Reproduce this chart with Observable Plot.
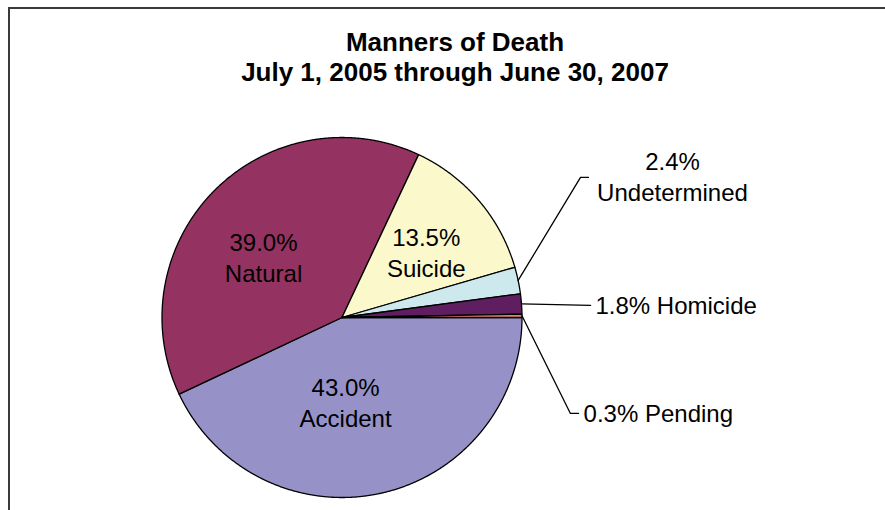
<!DOCTYPE html>
<html>
<head>
<meta charset="utf-8">
<script src="https://cdn.jsdelivr.net/npm/d3@7"></script>
<script src="https://cdn.jsdelivr.net/npm/@observablehq/plot@0.6"></script>
<style>
  html, body { margin: 0; padding: 0; background: #fff; overflow: hidden; }
  #wrap { position: relative; width: 885px; height: 510px; overflow: hidden; }
  #frame { position: absolute; left: 8px; top: 7px; width: 1000px; height: 1000px;
           border-left: 2px solid #3a3a3a; border-top: 2px solid #3a3a3a; pointer-events: none; }
  #title { position: relative; width: 885px; box-sizing: border-box; padding: 27px 0 0 25px; height: 87px;
           text-align: center; font-family: "Liberation Sans", Arial, sans-serif; font-weight: bold;
           font-size: 26px; line-height: 30px; color: #000; }
  #chart { position: relative; }
</style>
</head>
<body>
<div id="wrap">
  <div id="frame"></div>
  <div id="title">Manners of Death<br>July 1, 2005 through June 30, 2007</div>
  <div id="chart"></div>
</div>
<script>
// ---- data ----
const categories = ["Accident", "Natural", "Suicide", "Undetermined", "Homicide", "Pending"];
const percents = [43.0, 39.0, 13.5, 2.4, 1.8, 0.3];
const colors = ["#9692c8", "#943361", "#fbf8cc", "#cde9ee", "#5f1e5f", "#f08070"];
const insideLabels = ["Accident", "Natural", "Suicide"];
const outsideLabels = ["Undetermined", "Homicide", "Pending"];

// ---- layout (unit = pie radius, y up, origin = pie centre) ----
const R = 180, W = 885, H = 423, CX = 341.5, CY = 230;
const insideNudge = {Accident: [-0.10, 0.067], Natural: [-0.047, -0.053], Suicide: [0.05, 0.011]};
const callouts = {
  Undetermined: {elbow: [1.325, 0.778], end: [1.369, 0.778], text: [1.836, 0.786], anchor: "middle", twoLine: true},
  Homicide:     {elbow: [1.381, 0.067], end: [1.381, 0.067], text: [1.408, 0.072], anchor: "start", twoLine: false},
  Pending:      {elbow: [1.269, -0.533], end: [1.314, -0.533], text: [1.342, -0.528], anchor: "start", twoLine: false}
};

const slices = categories.map((name, i) => ({name, value: percents[i]}));
const arcs = d3.pie().sort(null).value(d => d.value)
  .startAngle(Math.PI / 2).endAngle(Math.PI / 2 + 2 * Math.PI)(slices);

const pt = (a, r) => [r * Math.sin(a), r * Math.cos(a)];
const slicePts = [];
for (const a of arcs) {
  const n = Math.max(2, Math.ceil((a.endAngle - a.startAngle) / (Math.PI / 720)));
  slicePts.push({name: a.data.name, x: 0, y: 0});
  for (let k = 0; k <= n; k++) {
    const ang = a.startAngle + (a.endAngle - a.startAngle) * k / n;
    const [x, y] = pt(ang, 1);
    slicePts.push({name: a.data.name, x, y});
  }
  slicePts.push({name: a.data.name, x: 0, y: 0});
}

const fmt = v => v.toFixed(1) + "%";
const inside = arcs.filter(a => insideLabels.includes(a.data.name)).map(a => {
  const mid = (a.startAngle + a.endAngle) / 2;
  const [x, y] = pt(mid, 0.55);
  const nd = insideNudge[a.data.name];
  return {x: x + nd[0], y: y + nd[1], label: fmt(a.data.value) + "\n" + a.data.name};
});

const leaderPts = [];
const outside = [];
for (const a of arcs.filter(a => outsideLabels.includes(a.data.name))) {
  const c = callouts[a.data.name];
  const mid = (a.startAngle + a.endAngle) / 2;
  const [ex, ey] = pt(mid, 1);
  leaderPts.push({name: a.data.name, x: ex, y: ey});
  leaderPts.push({name: a.data.name, x: c.elbow[0], y: c.elbow[1]});
  leaderPts.push({name: a.data.name, x: c.end[0], y: c.end[1]});
  outside.push({x: c.text[0], y: c.text[1], anchor: c.anchor,
    label: fmt(a.data.value) + (c.twoLine ? "\n" : " ") + a.data.name});
}

const font = "'Liberation Sans', Arial, sans-serif";
const chart = Plot.plot({
  width: W, height: H,
  marginTop: 0, marginRight: 0, marginBottom: 0, marginLeft: 0,
  style: {fontFamily: font, background: "transparent", overflow: "visible"},
  x: {domain: [-CX / R, (W - CX) / R], range: [0, W], axis: null},
  y: {domain: [-(H - CY) / R, CY / R], range: [H, 0], axis: null},
  color: {domain: categories, range: colors},
  marks: [
    Plot.line(slicePts, {x: "x", y: "y", z: "name", fill: "name", stroke: "#000",
      strokeWidth: 1.3, strokeLinejoin: "round", curve: "linear"}),
    Plot.line(leaderPts, {x: "x", y: "y", z: "name", stroke: "#000", strokeWidth: 1.3, curve: "linear"}),
    Plot.text(inside, {x: "x", y: "y", text: "label", fontSize: 24, lineHeight: 1.29,
      fill: "#000", textAnchor: "middle", fontFamily: font}),
    Plot.text(outside.filter(d => d.anchor === "middle"), {x: "x", y: "y", text: "label", fontSize: 24,
      lineHeight: 1.29, fill: "#000", textAnchor: "middle", fontFamily: font}),
    Plot.text(outside.filter(d => d.anchor === "start"), {x: "x", y: "y", text: "label", fontSize: 24,
      lineHeight: 1.29, fill: "#000", textAnchor: "start", fontFamily: font})
  ]
});
document.getElementById("chart").appendChild(chart);
</script>
</body>
</html>
